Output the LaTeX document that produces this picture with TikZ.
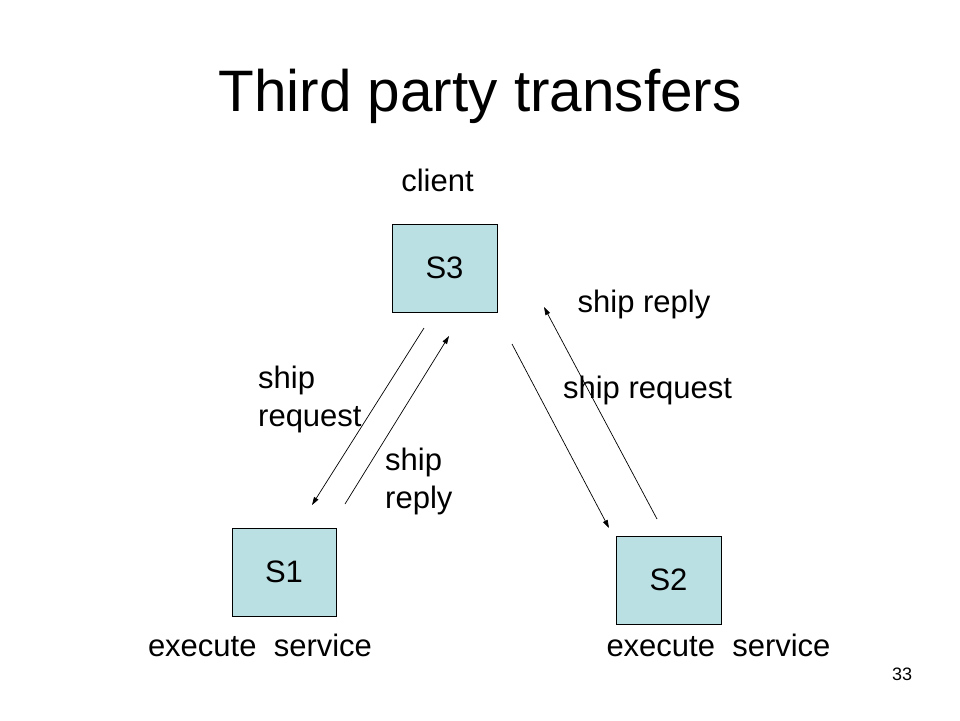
\documentclass[tikz,border=0pt]{standalone}
\usepackage{fontspec}
\setmainfont{Liberation Sans}
\usetikzlibrary{arrows.meta}
\definecolor{boxfill}{RGB}{187,224,227}
\tikzset{
  srvbox/.style={draw=black, line width=0.9pt, fill=boxfill, inner sep=0pt},
  lbl/.style={font=\fontsize{31}{38}\selectfont, inner sep=0pt},
  msg/.style={line width=0.7pt, -{Triangle[length=8pt,width=5pt]}}
}
\begin{document}
\begin{tikzpicture}[x=1pt,y=-1pt]
\useasboundingbox (0,0) rectangle (960,720);
% title
\node[font=\fontsize{58.5}{60}\selectfont, inner sep=0pt, anchor=base] (title) at (480,111) {Third party transfers};
% boxes
\path[srvbox] (392,224) rectangle (497,312);
\node[lbl, anchor=center] (s3) at (444.5,268) {S3};
\path[srvbox] (232,528) rectangle (336,616);
\node[lbl, anchor=center] (s1) at (284,572) {S1};
\path[srvbox] (616,536) rectangle (721,624);
\node[lbl, anchor=center] (s2) at (668.5,580) {S2};
% labels
\node[lbl, anchor=base] (client) at (437.5,191) {client};
\node[lbl, anchor=base] (exec1) at (260,656) {execute\ \ service};
\node[lbl, anchor=base] (exec2) at (718.5,656) {execute\ \ service};
\node[lbl, anchor=base west, align=left] (lreq) at (258,426) {ship\\request};
\node[lbl, anchor=base west, align=left] (lrep) at (385,508) {ship\\reply};
\node[lbl, anchor=base] (rrep) at (644,312) {ship reply};
\node[lbl, anchor=base] (rreq) at (647.5,398) {ship request};
\node[font=\fontsize{18}{20}\selectfont, inner sep=0pt, anchor=base] (page) at (902,680) {33};
% arrow endpoints
\coordinate (a1s) at (424,328);
\coordinate (a1e) at (312,505);
\coordinate (a2s) at (345,504);
\coordinate (a2e) at (449,336);
\coordinate (a3s) at (512,344);
\coordinate (a3e) at (609,528);
\coordinate (a4s) at (657,519);
\coordinate (a4e) at (544,307);
\draw[msg] (a1s) -- (a1e);
\draw[msg] (a2s) -- (a2e);
\draw[msg] (a3s) -- (a3e);
\draw[msg] (a4s) -- (a4e);
\end{tikzpicture}
\end{document}
